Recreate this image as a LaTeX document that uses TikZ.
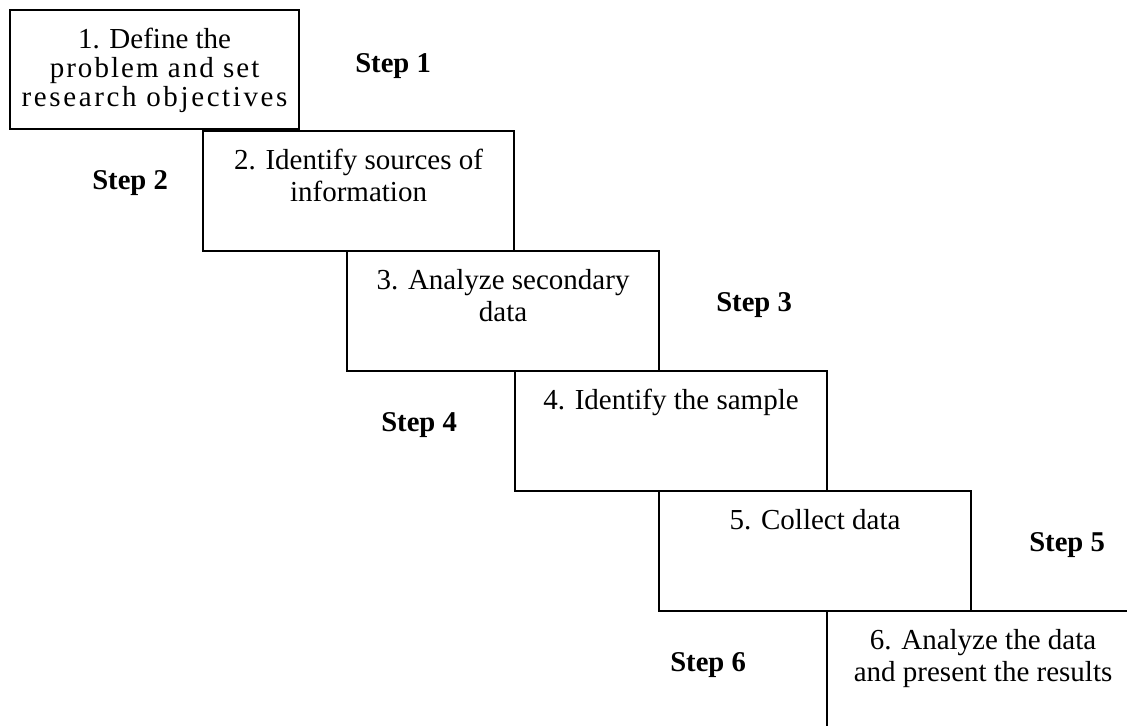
\documentclass[tikz,border=0pt]{standalone}
\usepackage{fontspec}
\setmainfont{Liberation Serif}
\begin{document}
\begin{tikzpicture}[x=0.75pt,y=-0.75pt,
  box/.style={draw, line width=1.6pt, inner sep=0pt, anchor=north west,
    minimum width=234pt, minimum height=90pt},
  txt/.style={anchor=north, align=center, inner sep=0pt,
    font=\fontsize{21.75pt}{24pt}\selectfont},
  steplbl/.style={anchor=base west, inner sep=0pt,
    font=\fontsize{21.5pt}{24pt}\selectfont\bfseries}]
\clip (0,0) rectangle (1127,725);
\node[box, minimum width=216.75pt, minimum height=89.25pt] (b1) at (9,9) {};
\node[box, minimum width=233.25pt] (b2) at (202,130) {};
\node[box] (b3) at (346,250) {};
\node[box] (b4) at (514,370) {};
\node[box] (b5) at (658,490) {};
\node[box] (b6) at (826,610) {};
\node[txt, yshift=-14.25pt, font=\fontsize{21.75pt}{21.5pt}\selectfont] (t1) at (b1.north)
  {1. Define the\\{\addfontfeature{LetterSpace=7}problem and set}\\{\addfontfeature{LetterSpace=9}research objectives}};
\node[txt, yshift=-14.25pt] (t2) at (b2.north) {2. Identify sources of\\information};
\node[txt, yshift=-14.25pt] (t3) at (b3.north) {3. Analyze secondary\\data};
\node[txt, yshift=-14.25pt] (t4) at (b4.north) {4. Identify the sample};
\node[txt, yshift=-14.25pt] (t5) at (b5.north) {5. Collect data};
\node[txt, yshift=-14.25pt] (t6) at (b6.north) {6. Analyze the data\\and present the results};
\node[steplbl] (s1) at (355,72) {Step 1};
\node[steplbl] (s2) at (92,189) {Step 2};
\node[steplbl] (s3) at (716,311) {Step 3};
\node[steplbl] (s4) at (381,431) {Step 4};
\node[steplbl] (s5) at (1029,551) {Step 5};
\node[steplbl] (s6) at (670,671) {Step 6};
\end{tikzpicture}
\end{document}
